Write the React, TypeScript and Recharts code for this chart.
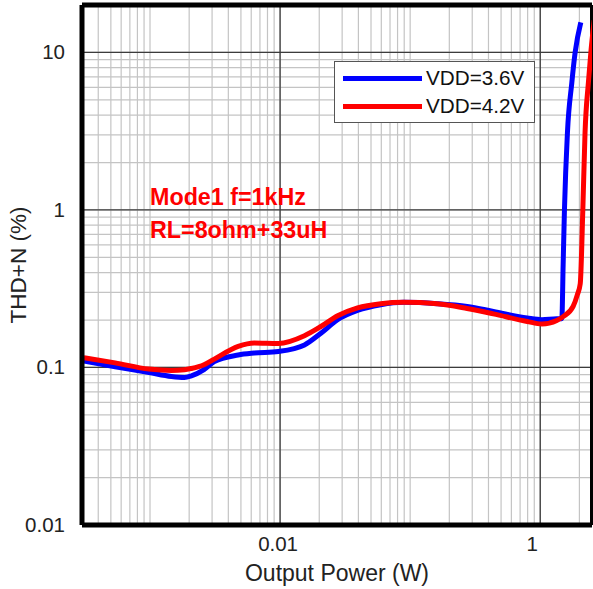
import React from "react";
import {
    LineChart,
    Line,
    XAxis,
    YAxis,
    CartesianGrid,
    ReferenceLine,
} from "recharts";

// output power (W) and THD+N (%)
const powerBlue = [
    0.00031, 0.00054, 0.00098, 0.00146, 0.00184, 0.00208, 0.0026, 0.00312,
    0.00476, 0.00632, 0.0097, 0.0154, 0.0206, 0.0277, 0.0394, 0.0594, 0.0891,
    0.1615, 0.274, 0.436, 0.794, 1.03, 1.34, 1.466, 1.5, 1.535, 1.618, 1.749,
    1.854, 2.05,
];
const thdBlue = [
    0.11, 0.101, 0.093, 0.0877, 0.0865, 0.0886, 0.097, 0.109, 0.12, 0.1234,
    0.1264, 0.139, 0.165, 0.201, 0.23, 0.25, 0.259, 0.254, 0.244, 0.227, 0.206,
    0.201, 0.204, 0.204, 0.45, 1.0, 3.09, 6.43, 9.96, 15.5,
];

const powerRed = [
    0.00031, 0.00054, 0.00098, 0.00146, 0.00184, 0.00208, 0.0026, 0.00312,
    0.00476, 0.00632, 0.0097, 0.0154, 0.0206, 0.0277, 0.0394, 0.0594, 0.0891,
    0.1615, 0.274, 0.436, 0.794, 1.03, 1.34, 1.51, 1.79, 1.93, 2.03, 2.125,
    2.21, 2.345, 2.46, 2.6,
];
const thdRed = [
    0.1154, 0.107, 0.0977, 0.0958, 0.0967, 0.0985, 0.104, 0.113, 0.136, 0.143,
    0.142, 0.159, 0.182, 0.213, 0.239, 0.254, 0.259, 0.254, 0.237, 0.219, 0.196,
    0.189, 0.199, 0.211, 0.244, 0.29, 0.34, 1.0, 3.09, 6.43, 10.4, 16,
];

const xLabels = [0.01, 1];
const yLabels = [0.01, 0.1, 1, 10];

// log grid: 1..9 times each decade
const mult = [1, 2, 3, 4, 5, 6, 7, 8, 9];
const xGrid = [0.0001, 0.001, 0.01, 0.1, 1]
    .flatMap((d) => mult.map((m) => +(m * d).toPrecision(3)))
    .filter((v) => v >= 0.0003 && v <= 2.5);
const yGrid = [0.01, 0.1, 1, 10]
    .flatMap((d) => mult.map((m) => +(m * d).toPrecision(3)))
    .filter((v) => v >= 0.01 && v <= 20);

const blueData = powerBlue.map((p, i) => ({ p, thd: thdBlue[i] }));
const redData = powerRed.map((p, i) => ({ p, thd: thdRed[i] }));

const FONT = "'Liberation Sans', Arial, sans-serif";
const W = 593;
const H = 589;

const fmt = (v: number) => String(v);

const XTick = (props: any) => {
    const { x, y, payload } = props;
    if (!xLabels.includes(payload.value)) return null;
    const shift = payload.value === 1 ? -8 : -2;
    return (
        <text
            x={x + shift}
            y={y + 18}
            textAnchor="middle"
            fontSize={20.5}
            fontFamily={FONT}
            fill="#222"
        >
            {fmt(payload.value)}
        </text>
    );
};

const YTick = (props: any) => {
    const { x, y, payload } = props;
    if (!yLabels.includes(payload.value)) return null;
    return (
        <text
            x={x - 9}
            y={y + 7}
            textAnchor="end"
            fontSize={20.5}
            fontFamily={FONT}
            fill="#222"
        >
            {fmt(payload.value)}
        </text>
    );
};

export default function App() {
    return (
        <div
            style={{
                position: "absolute",
                left: 0,
                top: 0,
                width: W,
                height: H,
                background: "#fff",
                fontFamily: FONT,
            }}
        >
            <LineChart
                width={W}
                height={H}
                margin={{ top: 5, right: 1, left: 0, bottom: 0 }}
            >
                <CartesianGrid stroke="#c4c4c4" strokeWidth={1.2} />
                <XAxis
                    dataKey="p"
                    type="number"
                    scale="log"
                    domain={[0.0003, 2.5]}
                    allowDataOverflow
                    ticks={xGrid}
                    interval={0}
                    tick={<XTick />}
                    tickLine={false}
                    axisLine={{ stroke: "#000", strokeWidth: 5 }}
                    height={64}
                    label={{
                        value: "Output Power (W)",
                        position: "insideBottom",
                        offset: 8,
                        fontSize: 23,
                        fontFamily: FONT,
                        fill: "#222",
                    }}
                />
                <YAxis
                    dataKey="thd"
                    type="number"
                    scale="log"
                    domain={[0.01, 20]}
                    allowDataOverflow
                    ticks={yGrid}
                    interval={0}
                    tick={<YTick />}
                    tickLine={false}
                    axisLine={{ stroke: "#000", strokeWidth: 5 }}
                    width={82}
                    label={{
                        value: "THD+N (%)",
                        angle: -90,
                        position: "insideLeft",
                        offset: 18,
                        fontSize: 22.5,
                        fontFamily: FONT,
                        fill: "#222",
                        style: { textAnchor: "middle" },
                    }}
                />
                {xLabels.map((v) => (
                    <ReferenceLine key={"mx" + v} x={v} stroke="#3c3c3c" strokeWidth={1.3} />
                ))}
                {yLabels.map((v) => (
                    <ReferenceLine key={"my" + v} y={v} stroke="#3c3c3c" strokeWidth={1.3} />
                ))}
                <ReferenceLine y={20} stroke="#000" strokeWidth={5} />
                <ReferenceLine x={2.5} stroke="#000" strokeWidth={4} />
                <Line
                    data={blueData}
                    dataKey="thd"
                    type="monotone"
                    stroke="#0000ff"
                    strokeWidth={5}
                    dot={false}
                    isAnimationActive={false}
                />
                <Line
                    data={redData}
                    dataKey="thd"
                    type="monotone"
                    stroke="#ff0000"
                    strokeWidth={5}
                    dot={false}
                    isAnimationActive={false}
                />
            </LineChart>

            {/* legend box */}
            <div
                style={{
                    position: "absolute",
                    left: 334,
                    top: 61,
                    width: 201,
                    height: 62,
                    border: "1.5px solid #555",
                    background: "#fff",
                    boxSizing: "border-box",
                }}
            >
                {[
                    { name: "VDD=3.6V", color: "#0000ff", top: 17 },
                    { name: "VDD=4.2V", color: "#ff0000", top: 45 },
                ].map((s) => (
                    <React.Fragment key={s.name}>
                        <div
                            style={{
                                position: "absolute",
                                left: 8,
                                top: s.top - 3,
                                width: 79,
                                height: 5,
                                background: s.color,
                            }}
                        />
                        <div
                            style={{
                                position: "absolute",
                                left: 91,
                                top: s.top - 13,
                                fontSize: 20.7,
                                lineHeight: "24px",
                                color: "#111",
                                whiteSpace: "nowrap",
                            }}
                        >
                            {s.name}
                        </div>
                    </React.Fragment>
                ))}
            </div>

            {/* test conditions */}
            <div
                style={{
                    position: "absolute",
                    left: 150,
                    top: 181,
                    color: "#ff0000",
                    fontWeight: "bold",
                    fontSize: 23.3,
                    lineHeight: "33px",
                    whiteSpace: "nowrap",
                }}
            >
                <div>Mode1 f=1kHz</div>
                <div>RL=8ohm+33uH</div>
            </div>
        </div>
    );
}
